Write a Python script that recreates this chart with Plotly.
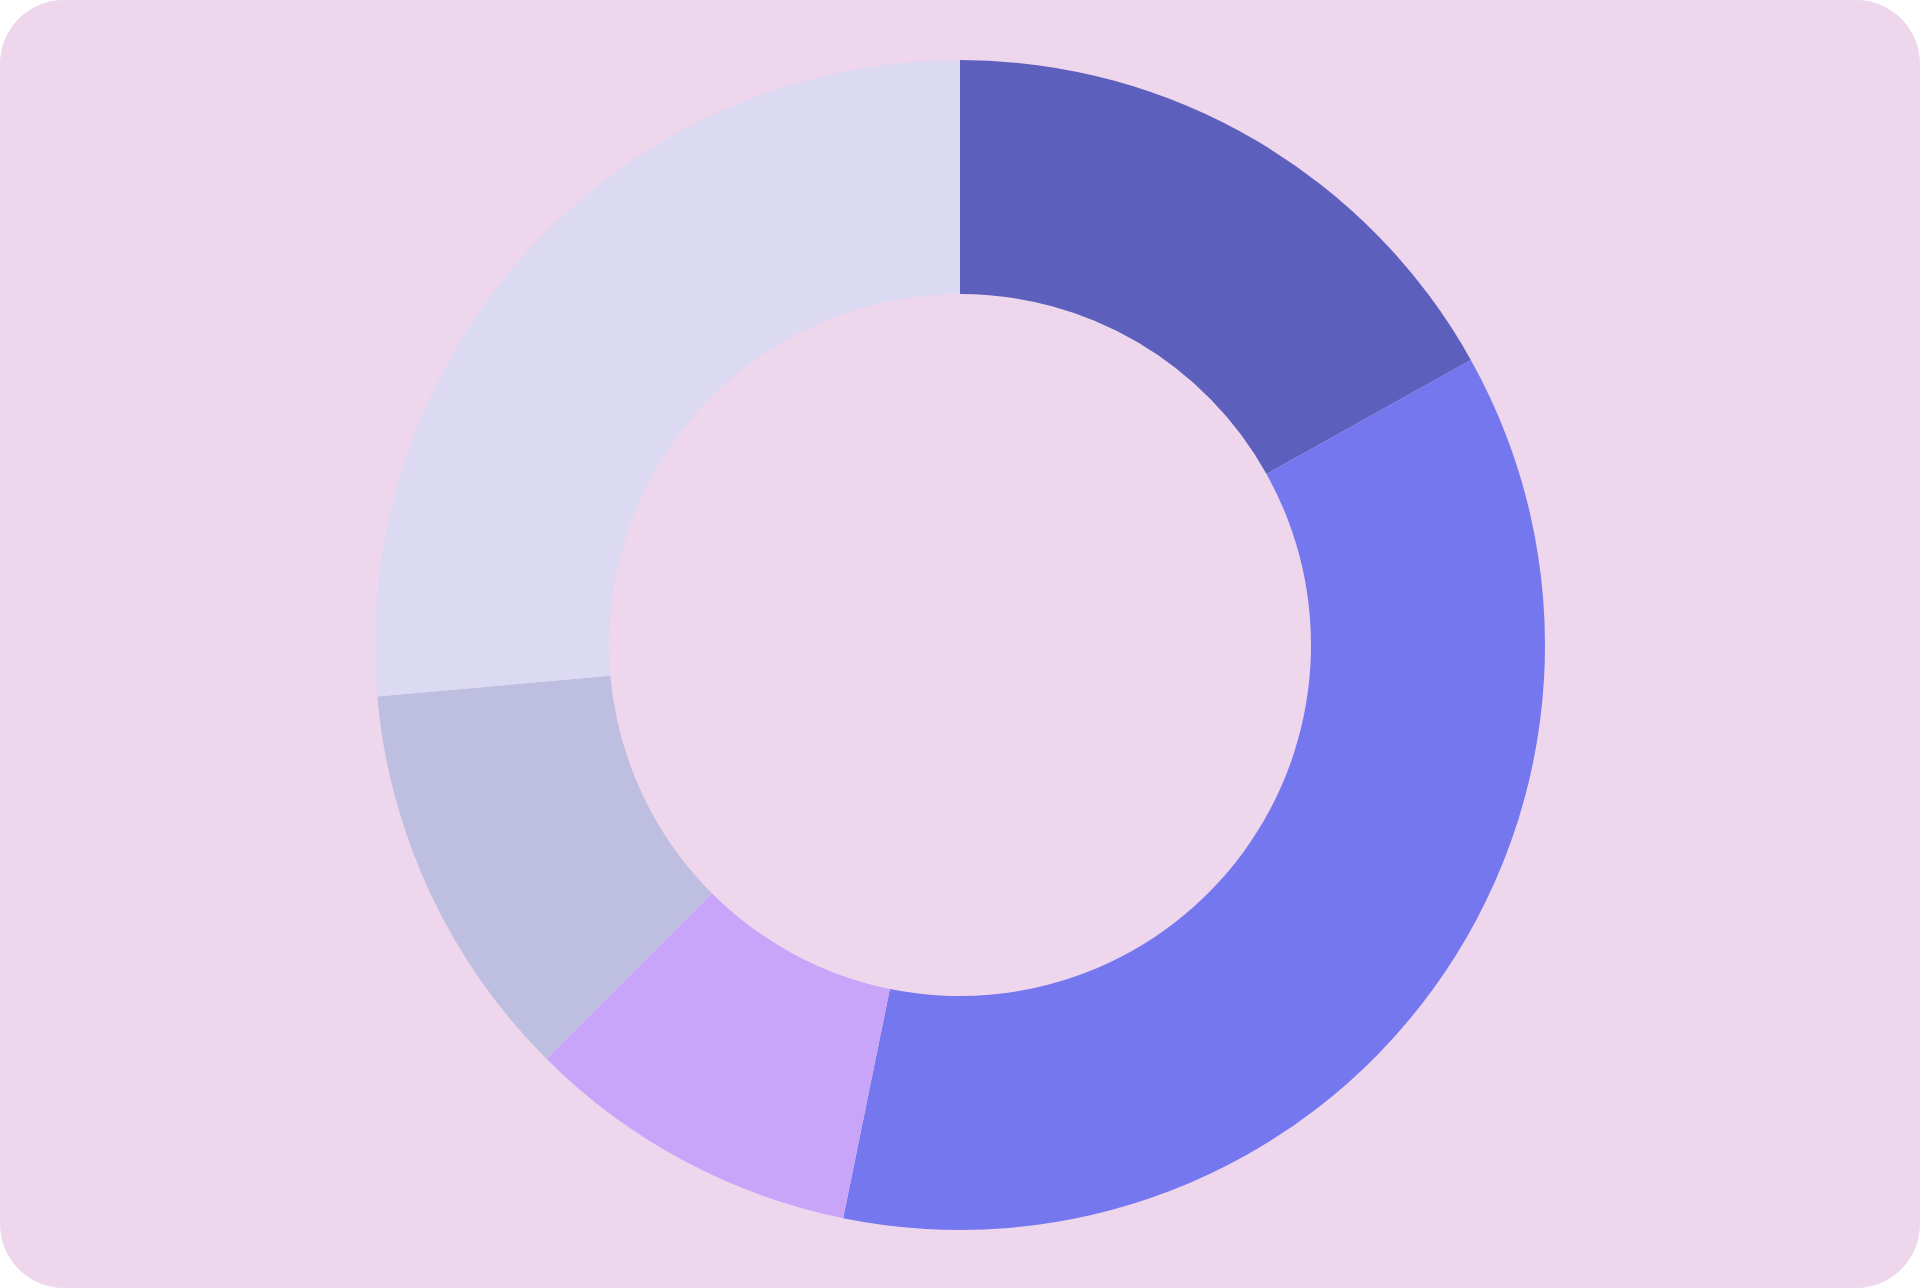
import plotly.graph_objects as go

# slice shares (degrees / 3.6)
labels = ["A", "B", "C", "D", "E"]
values = [16.9, 36.3, 9.3, 11.1, 26.4]
colors = ["#5d5fbd", "#7577ee", "#c9a5fa", "#bebee0", "#dcd9f3"]

W, H = 1920, 1288
bg = "#eed6ed"

# rounded rectangle behind everything (paper coords, margins are 0)
rx = 64 / W
ry = 64 / H
k = 0.4477  # 1 - kappa, for bezier corners
path = (
    f"M {rx},0 L {1-rx},0 "
    f"C {1-rx*k},0 1,{ry*k} 1,{ry} "
    f"L 1,{1-ry} "
    f"C 1,{1-ry*k} {1-rx*k},1 {1-rx},1 "
    f"L {rx},1 "
    f"C {rx*k},1 0,{1-ry*k} 0,{1-ry} "
    f"L 0,{ry} "
    f"C 0,{ry*k} {rx*k},0 {rx},0 Z"
)

fig = go.Figure()
fig.add_trace(go.Pie(
    labels=labels,
    values=values,
    hole=0.6,
    sort=False,
    direction="clockwise",
    rotation=0,
    marker=dict(colors=colors, line=dict(width=0)),
    textinfo="none",
    showlegend=False,
    domain=dict(x=[0, 1], y=[1 - 1230 / H, 1 - 60 / H]),
))

fig.update_layout(
    width=W,
    height=H,
    margin=dict(l=0, r=0, t=0, b=0),
    paper_bgcolor="white",
    plot_bgcolor="white",
    shapes=[dict(type="path", xref="paper", yref="paper", path=path,
                 fillcolor=bg, line=dict(width=0), layer="below")],
)

# drop the default page margin so the card sits flush with the window
fig.write_html("out.html", config={"displayModeBar": False},
               post_script="document.body.style.margin='0';")
